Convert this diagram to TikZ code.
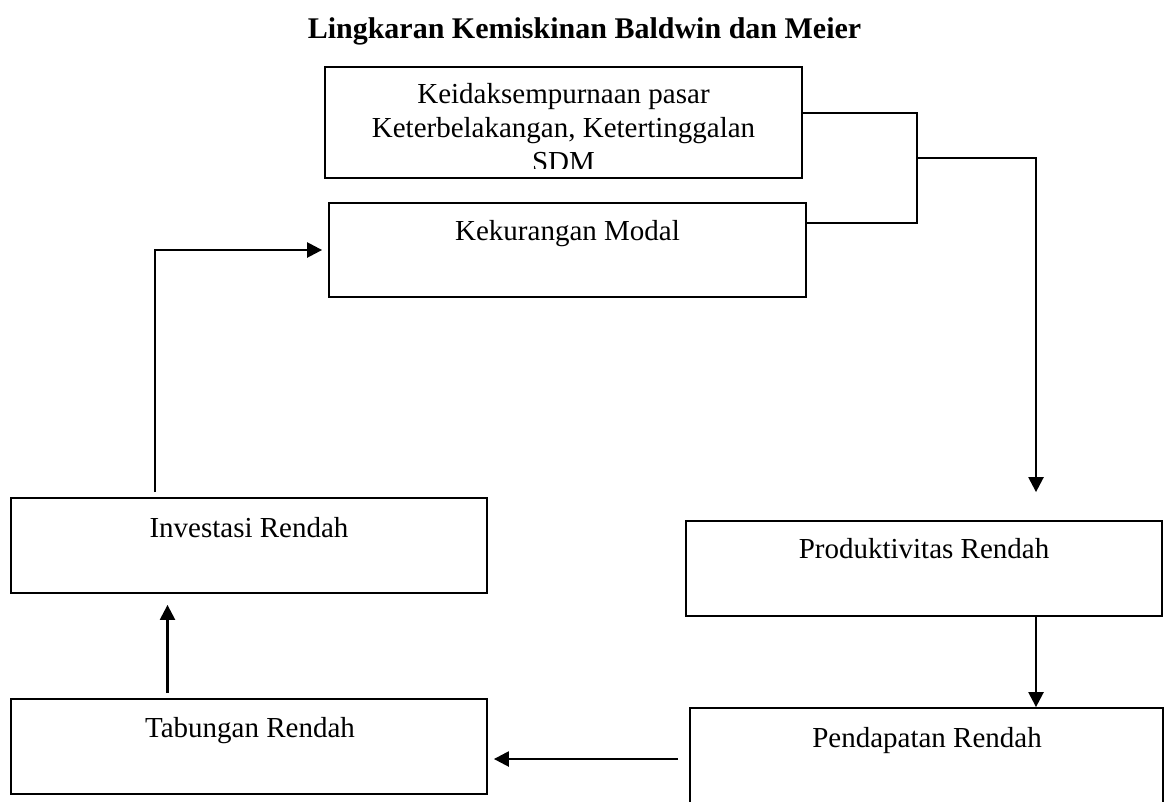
\documentclass[tikz,border=0pt]{standalone}
\usepackage{fontspec}
\setmainfont{Liberation Serif}
\usetikzlibrary{arrows.meta}
\begin{document}
\begin{tikzpicture}[x=1pt,y=-1pt,
  box/.style={draw, line width=1.8pt, rectangle, inner sep=0pt},
  txt/.style={anchor=base, inner sep=0pt, font=\fontsize{29}{34}\selectfont},
  conn/.style={line width=1.8pt},
  arr/.style={line width=2.4pt, -{Triangle[length=15pt,width=15pt]}}]
\clip (0,0) rectangle (1166,801);
\fill[white] (0,0) rectangle (1166,801);
% title
\node[anchor=base, inner sep=0pt, font=\bfseries\fontsize{30}{36}\selectfont] (title) at (584.5,38) {Lingkaran Kemiskinan Baldwin dan Meier};
% boxes
\node[box, minimum width=477pt, minimum height=111pt] (k1) at (563.5,122.5) {};
\node[box, minimum width=477pt, minimum height=94pt] (k2) at (567.5,250) {};
\node[box, minimum width=476pt, minimum height=95pt] (inv) at (249,545.5) {};
\node[box, minimum width=476pt, minimum height=95pt] (tab) at (249,746.5) {};
\node[box, minimum width=476pt, minimum height=95pt] (prod) at (924,568.5) {};
\node[box, minimum width=473pt, minimum height=110pt] (pend) at (926.5,763) {};
% texts
\begin{scope}
\clip (325,67) rectangle (802,168);
\node[txt] (k1a) at (563.5,103) {Keidaksempurnaan pasar};
\node[txt] (k1b) at (563.5,137) {Keterbelakangan, Ketertinggalan};
\node[txt] (k1c) at (563.5,171) {SDM};
\end{scope}
\node[txt] (k2t) at (567.5,240) {Kekurangan Modal};
\node[txt] (invt) at (249,537) {Investasi Rendah};
\node[txt] (tabt) at (250,737) {Tabungan Rendah};
\node[txt] (prodt) at (924,558) {Produktivitas Rendah};
\node[txt] (pendt) at (927,747) {Pendapatan Rendah};
% coordinates for routing
\coordinate (b1) at (917,113);
\coordinate (b2) at (917,223);
\coordinate (bm) at (917,158);
\coordinate (bc) at (1036,158);
\coordinate (lc) at (155,250);
\coordinate (tx) at (167.5,0);
\coordinate (yh) at (0,759);
% bracket
\draw[conn] (k1.east |- b1) -- (b1) -- (b2) -- (k2.east |- b2);
% connectors
\draw[arr, shorten >=28pt] (bm) -- (bc) -- (prod.north -| bc);
\draw[arr] (prod.south -| bc) -- (pend.north -| bc);
\draw[arr, shorten <=11pt, shorten >=6pt] (pend.west |- yh) -- (tab.east |- yh);
\draw[arr, shorten <=5pt, shorten >=11pt] (tab.north -| tx) -- (inv.south -| tx);
\draw[arr, shorten <=5pt, shorten >=6pt] (inv.north -| lc) -- (lc) -- (k2.west |- lc);
\end{tikzpicture}
\end{document}
